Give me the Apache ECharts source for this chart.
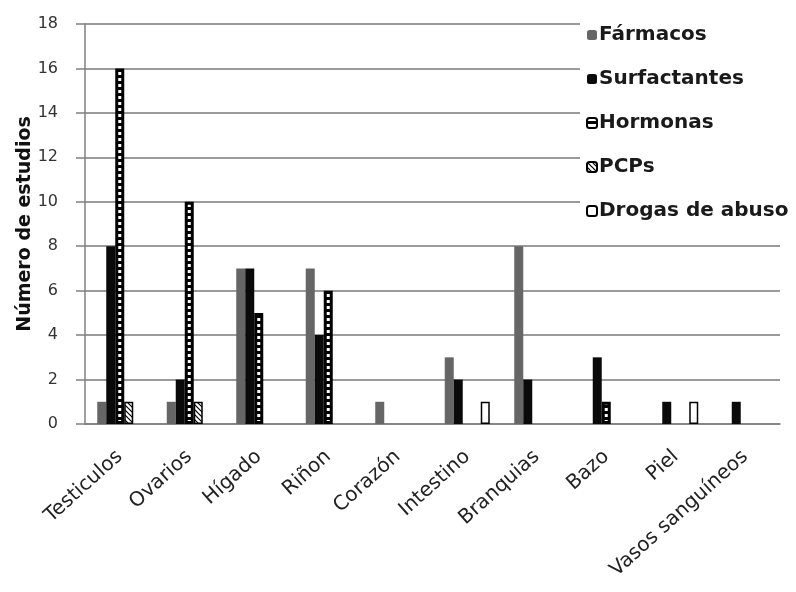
<!DOCTYPE html>
<html><head><meta charset="utf-8">
<script src="https://cdn.jsdelivr.net/npm/echarts@6/dist/echarts.min.js"></script>
<style>html,body{margin:0;padding:0;background:#fff}#c{width:796px;height:592px}</style>
</head><body><div id="c"></div>
<script>
const categories = ['Testiculos','Ovarios','Hígado','Riñon','Corazón','Intestino','Branquias','Bazo','Piel','Vasos sanguíneos'];
const seriesNames = ['Fármacos','Surfactantes','Hormonas','PCPs','Drogas de abuso'];
const farmacos     = [1, 1, 7, 7, 1, 3, 8, 0, 0, 0];
const surfactantes = [8, 2, 7, 4, 0, 2, 2, 3, 1, 1];
const hormonas     = [16, 10, 5, 6, 0, 0, 0, 1, 0, 0];
const pcps         = [1, 1, 0, 0, 0, 0, 0, 0, 0, 0];
const drogas       = [0, 0, 0, 0, 0, 1, 0, 0, 1, 0];
const yTicks = [0,2,4,6,8,10,12,14,16,18];

function stripePattern(){
  const c = document.createElement('canvas'); c.width = 4; c.height = 6;
  const g = c.getContext('2d');
  g.fillStyle = '#000'; g.fillRect(0,0,4,6);
  g.fillStyle = '#fff'; g.fillRect(0,0,4,3);
  return {image: c, repeat: 'repeat'};
}
function diagPattern(){
  const c = document.createElement('canvas'); c.width = 5; c.height = 5;
  const g = c.getContext('2d');
  g.fillStyle = '#fff'; g.fillRect(0,0,5,5);
  g.strokeStyle = '#000'; g.lineWidth = 1.2;
  g.beginPath(); g.moveTo(0,0); g.lineTo(5,5); g.stroke();
  g.beginPath(); g.moveTo(-1,4); g.lineTo(1,6); g.stroke();
  g.beginPath(); g.moveTo(4,-1); g.lineTo(6,1); g.stroke();
  return {image: c, repeat: 'repeat'};
}
const styles = [
  {color:'#666666'},
  {color:'#0a0a0a'},
  {color: stripePattern(), borderColor:'#000', borderWidth:3},
  {color: diagPattern(), borderColor:'#000', borderWidth:1.5},
  {color:'#fff', borderColor:'#000', borderWidth:1.5}
];
const values = [farmacos, surfactantes, hormonas, pcps, drogas];
const FONT = 'DejaVu Sans';

const chart = echarts.init(document.getElementById('c'), null, {renderer:'canvas'});
chart.setOption({
  animation:false,
  backgroundColor:'#fff',
  grid:{left:85, right:16, top:24, bottom:168, containLabel:false},
  legend:{
    orient:'vertical', left:580, top:17, itemGap:24, itemWidth:10, itemHeight:10,
    padding:[8,10,8,6], backgroundColor:'#fff',
    textStyle:{fontFamily:FONT, fontWeight:'bold', fontSize:20, lineHeight:20, color:'#1a1a1a', padding:[0,0,0,-3]},
    data: seriesNames
  },
  xAxis:{
    type:'category', data:categories,
    axisLine:{lineStyle:{color:'#808080', width:1.5}},
    axisTick:{show:false},
    axisLabel:{rotate:42, interval:0, fontFamily:FONT, fontSize:20, color:'#222', margin:30}
  },
  yAxis:{
    type:'value', min:0, max:18, interval:2,
    name:'Número de estudios', nameLocation:'middle', nameGap:50, nameMoveOverlap:false,
    nameTextStyle:{fontFamily:FONT, fontWeight:'bold', fontSize:19, color:'#111'},
    axisLine:{show:true, lineStyle:{color:'#808080', width:1.5}},
    axisTick:{show:true, length:9, lineStyle:{color:'#808080', width:1.5}},
    axisLabel:{fontFamily:FONT, fontSize:16, color:'#333', margin:27,
      formatter: v => yTicks.includes(v) ? String(v) : ''},
    splitLine:{lineStyle:{color:'#7a7a7a', width:1.5}}
  },
  series: seriesNames.map((n,i)=>({
    name:n, type:'bar', barWidth:9, barGap:'0%',
    itemStyle: styles[i],
    data: values[i].map(v => v === 0 ? '-' : v)
  }))
});
</script></body></html>
